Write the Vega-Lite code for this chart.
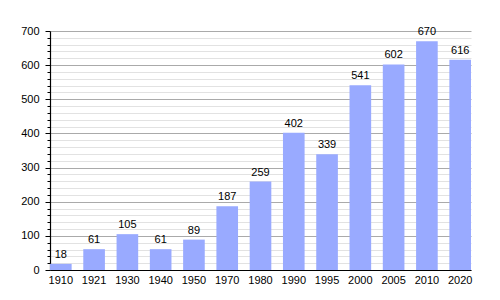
{
  "$schema": "https://vega.github.io/schema/vega-lite/v6.json",
  "width": 421,
  "height": 239,
  "autosize": {"type": "none"},
  "padding": {"left": 50, "top": 31, "right": 29, "bottom": 30},
  "background": "white",
  "config": {
    "view": {"stroke": null},
    "font": "Liberation Sans",
    "axis": {"labelFont": "Liberation Sans", "labelFontSize": 11, "labelColor": "#000", "domainColor": "#000"}
  },
  "data": {"values": [
    {"year": "1910", "pop": 18},
    {"year": "1921", "pop": 61},
    {"year": "1930", "pop": 105},
    {"year": "1940", "pop": 61},
    {"year": "1950", "pop": 89},
    {"year": "1970", "pop": 187},
    {"year": "1980", "pop": 259},
    {"year": "1990", "pop": 402},
    {"year": "1995", "pop": 339},
    {"year": "2000", "pop": 541},
    {"year": "2005", "pop": 602},
    {"year": "2010", "pop": 670},
    {"year": "2020", "pop": 616}
  ]},
  "encoding": {
    "x": {"field": "year", "type": "ordinal", "sort": null,
      "scale": {"paddingInner": 0.35, "paddingOuter": 0.0, "align": 0},
      "axis": {"title": null, "labelAngle": 0, "ticks": false, "labelPadding": 4, "domainWidth": 1}},
    "y": {"field": "pop", "type": "quantitative",
      "scale": {"domain": [0, 700], "nice": false},
      "axis": {"title": null,
        "values": [0,20,40,60,80,100,120,140,160,180,200,220,240,260,280,300,320,340,360,380,400,420,440,460,480,500,520,540,560,580,600,620,640,660,680,700],
        "labelExpr": "datum.value % 100 === 0 ? datum.label : ''",
        "grid": true,
        "gridColor": {"condition": {"test": "datum.value % 100 === 0", "value": "#aaaaaa"}, "value": "#e2e2e2"},
        "tickColor": "#000",
        "tickSize": {"condition": {"test": "datum.value % 100 === 0", "value": 5}, "value": 3},
        "labelPadding": 6, "domainWidth": 1.2}}
  },
  "layer": [
    {"mark": {"type": "bar", "color": "#99aaff"}},
    {"mark": {"type": "text", "dy": -9, "fontSize": 11, "color": "#000", "font": "Liberation Sans"},
      "encoding": {"text": {"field": "pop", "type": "quantitative"}}}
  ]
}
